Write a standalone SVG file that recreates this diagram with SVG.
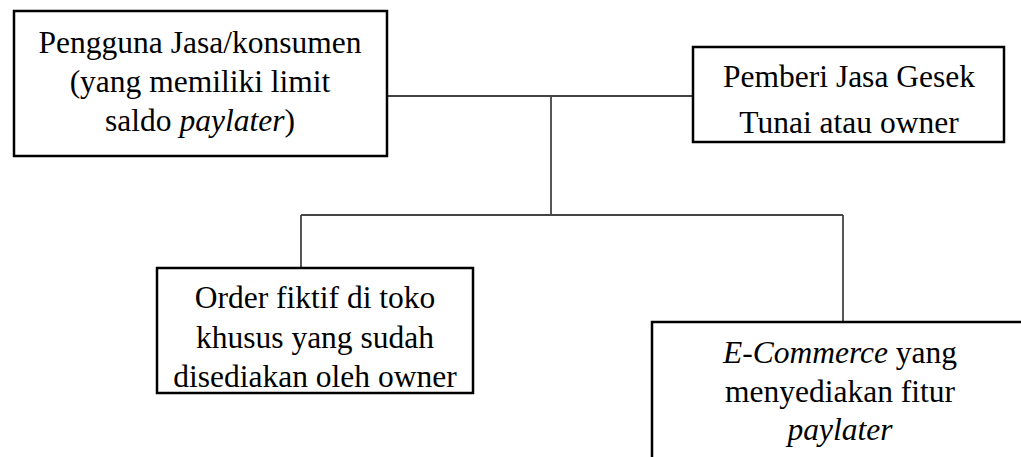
<svg xmlns="http://www.w3.org/2000/svg" width="1021" height="457" viewBox="0 0 1021 457">
<style>
.box{fill:#fff;stroke:#000;stroke-width:2.5}
.lbl{font-size:31.5px;fill:#000;text-anchor:middle}
.it{font-style:italic}
.con{stroke:#444;stroke-width:1.8;fill:none}
</style>
<rect width="1021" height="457" fill="#fff"/>
<g id="connectors">
<path class="con" d="M387 96H693"/>
<path class="con" d="M551 96V215"/>
<path class="con" d="M301 215H843"/>
<path class="con" d="M301 215V268"/>
<path class="con" d="M843 215V322"/>
</g>
<g font-family="'Times New Roman', 'Liberation Serif', Times, serif">
<g id="node-pengguna">
<rect class="box" x="14" y="11" width="373" height="145"/>
<text class="lbl" x="200" y="53">Pengguna Jasa/konsumen</text>
<text class="lbl" x="200" y="92">(yang memiliki limit</text>
<text class="lbl" x="200" y="131">saldo <tspan class="it">paylater</tspan>)</text>
</g>
<g id="node-pemberi">
<rect class="box" x="693" y="47" width="311" height="95"/>
<text class="lbl" x="849" y="87">Pemberi Jasa Gesek</text>
<text class="lbl" x="849" y="133">Tunai atau owner</text>
</g>
<g id="node-order">
<rect class="box" x="157" y="268" width="316" height="125"/>
<text class="lbl" x="315" y="308">Order fiktif di toko</text>
<text class="lbl" x="315" y="348">khusus yang sudah</text>
<text class="lbl" x="315" y="387">disediakan oleh owner</text>
</g>
<g id="node-ecommerce">
<rect class="box" x="652" y="322" width="380" height="150"/>
<text class="lbl" x="840" y="363"><tspan class="it">E-Commerce</tspan> yang</text>
<text class="lbl" x="840" y="402">menyediakan fitur</text>
<text class="lbl it" x="840" y="440">paylater</text>
</g>
</g>
</svg>
